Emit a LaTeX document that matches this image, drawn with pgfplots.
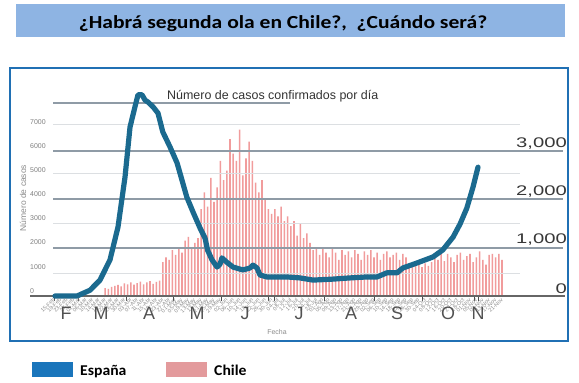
\documentclass[border=0pt]{standalone}
\usepackage{pgfplots}
\pgfplotsset{compat=1.18}
\usepackage{fontspec}
\setmainfont{Carlito}
\newfontfamily\lib{Liberation Sans}
\definecolor{banner}{HTML}{8EB4E3}
\definecolor{boxblue}{HTML}{2070B4}
\definecolor{spain}{HTML}{1B6A8F}
\definecolor{chile}{HTML}{F19C9C}
\definecolor{legspain}{HTML}{1A75BB}
\definecolor{legchile}{HTML}{E39A9C}
\definecolor{darkgrid}{HTML}{8F9BA6}
\definecolor{lightgrid}{HTML}{DCDFE2}
\newcommand{\hscl}[1]{\scalebox{1.45}[1]{#1}}
\begin{document}
\begin{tikzpicture}
\useasboundingbox (0,0) rectangle (579bp,-383bp);
\fill[white] (0,0) rectangle (579bp,-383bp);
% banner title
\fill[banner] (16bp,-4bp) rectangle (565bp,-37bp);
\node[anchor=base, inner sep=0, font=\fontsize{18.5}{20}\selectfont\bfseries] at (283bp,-28.5bp) {\scalebox{1.17}[1]{¿Habrá segunda ola en Chile?,\ \ ¿Cuándo será?}};
% chart frame
\draw[boxblue, line width=2.2bp] (10bp,-68bp) rectangle (568bp,-341bp);

% ---------------- Chile (left scale) ----------------
\begin{axis}[at={(30bp,-296bp)}, anchor=south west, scale only axis,
  width=535bp, height=193bp,
  xmin=-1, xmax=333.375, ymin=0, ymax=8000,
  axis x line=none, axis y line*=left,
  y axis line style={draw=none},
  major tick length=0,
  ytick={0,1000,2000,3000,4000,5000,6000,7000},
  yticklabel style={anchor=south west, inner sep=0, yshift=2.5bp, xshift=0bp,
    font=\lib\fontsize{7}{7}\selectfont, text=black!50},
  /pgf/number format/assume math mode=true,
  /pgf/number format/1000 sep={},
  clip=false]
\addplot[ybar, bar width=1.55bp, fill=chile, draw=none] coordinates {
(46,330) (48,300) (50,380) (52,420) (54,460) (56,400) (58,520) (60,480)
(62,560) (64,470) (66,530) (68,600) (70,480) (72,560) (74,620) (76,500)
(78,590) (80,640) (82,1400) (84,1600) (86,1500) (88,1900) (90,1700) (92,2000)
(94,1800) (96,2300) (98,2450) (100,2000) (102,2200) (104,2400) (106,3600) (108,4300)
(110,3700) (112,4900) (114,3900) (116,4500) (118,5600) (120,4800) (122,5200) (124,6500)
(126,5900) (128,5600) (130,6900) (132,5000) (134,5700) (136,6400) (138,5600) (140,4700)
(142,4300) (144,4800) (146,4000) (148,3600) (150,3400) (152,3600) (154,3300) (156,3700)
(158,3100) (160,3300) (162,2900) (164,3100) (166,2500) (168,3000) (170,2400) (172,2600)
(174,2200) (176,1900) (178,2000) (180,1700) (182,1950) (184,1800) (186,1600) (188,1950)
(190,1800) (192,1500) (194,1900) (196,1700) (198,1850) (200,1600) (202,1900) (204,1750)
(206,1500) (208,1850) (210,1700) (212,1900) (214,1600) (216,1800) (218,1500) (220,1750)
(222,1850) (224,1600) (226,1700) (228,1800) (230,1500) (232,1750) (234,1600) (236,1300)
(238,1300) (240,1250) (242,1300) (244,1200) (246,1350) (248,1250) (250,1400) (252,1700)
(254,1500) (256,1800) (258,1450) (260,1750) (262,1600) (264,1400) (266,1700) (268,1800)
(270,1500) (272,1650) (274,1750) (276,1400) (278,1600) (280,1850) (282,1500) (284,1300)
(286,1700) (288,1750) (290,1600) (292,1750) (294,1500)
};
\end{axis}

% grid lines (over the bars)
\foreach \y in {124,173,223,273} \draw[lightgrid, line width=0.9bp] (53bp,-\y bp) -- (520bp,-\y bp);
\foreach \y in {151,199,248} \draw[darkgrid, line width=1.1bp] (53bp,-\y bp) -- (563bp,-\y bp);
\draw[darkgrid, line width=1.1bp] (53bp,-103bp) -- (290bp,-103bp);

% ---------------- Spain (right scale) ----------------
\begin{axis}[at={(30bp,-296bp)}, anchor=south west, scale only axis,
  width=535bp, height=193bp,
  xmin=-1, xmax=333.375, ymin=0, ymax=4000,
  axis x line*=bottom, axis y line*=right,
  x axis line style={draw=black!60, line width=1.1bp, -},
  y axis line style={draw=none},
  xtick={14,29,59,88.4,118.4,147.75,152,182.75,214,244,277,279},
  xticklabels={},
  x tick style={draw=black!70, line width=0.9bp},
  tick align=outside,
  major tick length=5bp,
  y tick style={draw=none},
  ytick={0,1000,2000,3000},
  yticklabels={{\hscl{0}},{\hscl{1,000}},{\hscl{2,000}},{\hscl{3,000}}},
  yticklabel style={anchor=south east, inner sep=0, xshift=-3bp, yshift=2bp,
    font=\lib\fontsize{14}{14}\selectfont, text=black!78},
  clip=false]
\addplot[spain, line width=5.2bp, line join=round, line cap=round] coordinates {
(14.6,0) (28.4,0) (36.5,120) (42.75,330) (49,750) (54,1430) (58.4,2470)
(61.5,3500) (64.6,3920) (66.5,4170) (69,4170) (70.9,4060) (72.75,4020)
(75.9,3920) (79,3790) (82,3400) (86.5,3090) (90.9,2760) (94,2400) (97,2050)
(100.9,1740) (105.25,1410) (108.4,1200) (110,950) (112.75,750) (115.9,600)
(117.75,660) (119,790) (122,700) (125.9,600) (132,540) (136.5,580) (138.4,640)
(140.9,580) (142.75,435) (147,395) (159.6,395) (167.75,375) (175.9,330)
(188.4,350) (199,375) (209.6,395) (215.9,395) (222,480) (228.4,480) (232,580)
(240.9,685) (250.9,810) (257,955) (263.4,1220) (267.75,1490) (272,1820)
(275.9,2260) (279,2670)
};
\end{axis}

% chart title and axis titles
\node[anchor=base west, inner sep=0, font=\lib\fontsize{12.5}{13}\selectfont, text=black!80] at (167bp,-99.5bp) {Número de casos confirmados por día};
\node[rotate=90, inner sep=0, font=\lib\fontsize{8.5}{9}\selectfont, text=black!45] at (23bp,-198bp) {Número de casos};
\node[inner sep=0, font=\lib\fontsize{7}{7}\selectfont, text=black!45] at (277bp,-332bp) {Fecha};

% date tick labels (tiny, rotated)
\foreach \d/\t in {14/15-Feb,18/19-Feb,22/23-Feb,26/27-Feb,30/02-Mar,34/06-Mar,38/10-Mar,42/14-Mar,46/18-Mar,50/22-Mar,54/26-Mar,58/30-Mar,62/03-Abr,66/07-Abr,70/11-Abr,74/15-Abr,78/19-Abr,82/23-Abr,86/27-Abr,90/01-May,94/05-May,98/09-May,102/13-May,106/17-May,110/21-May,114/25-May,118/29-May,122/02-Jun,126/06-Jun,130/10-Jun,134/14-Jun,138/18-Jun,142/22-Jun,146/26-Jun,150/30-Jun,154/04-Jul,158/08-Jul,162/12-Jul,166/16-Jul,170/20-Jul,174/24-Jul,178/28-Jul,182/01-Ago,186/05-Ago,190/09-Ago,194/13-Ago,198/17-Ago,202/21-Ago,206/25-Ago,210/29-Ago,214/02-Sep,218/06-Sep,222/10-Sep,226/14-Sep,230/18-Sep,234/22-Sep,238/26-Sep,242/30-Sep,246/04-Oct,250/08-Oct,254/12-Oct,258/16-Oct,262/20-Oct,266/24-Oct,270/28-Oct,274/01-Nov,278/05-Nov,282/09-Nov,286/13-Nov,290/17-Nov,294/21-Nov}
  \node[rotate=45, anchor=east, inner sep=0, font=\lib\fontsize{5.5}{5.5}\selectfont, text=black!45] at ({(78+(\d-29)*1.6)*1bp},-299bp) {\t};

% month letters
\foreach \x/\m in {66/F,101/M,149/A,197/M,245/J,299/J,351/A,397/S,448/O,478/N}
  \node[anchor=base, inner sep=0, font=\lib\fontsize{18}{18}\selectfont, text=black!68] at (\x bp,-319.5bp) {\m};

% legend
\fill[legspain] (32bp,-362bp) rectangle (73bp,-377bp);
\node[anchor=base west, inner sep=0, font=\fontsize{15}{15}\selectfont\bfseries] at (80bp,-375bp) {\scalebox{1.05}[1]{España}};
\fill[legchile] (166bp,-362bp) rectangle (207bp,-377bp);
\node[anchor=base west, inner sep=0, font=\fontsize{15}{15}\selectfont\bfseries] at (214bp,-375bp) {\scalebox{1.05}[1]{Chile}};
\end{tikzpicture}
\end{document}
